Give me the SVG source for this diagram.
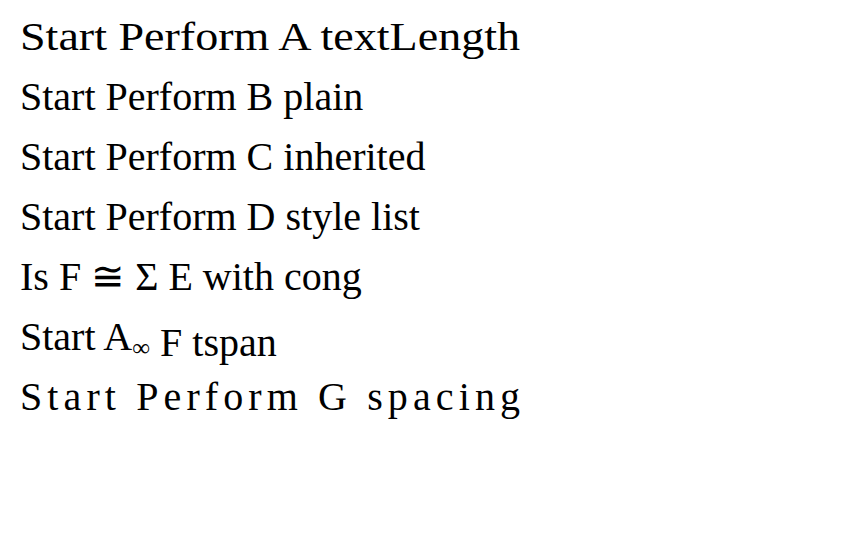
<svg xmlns="http://www.w3.org/2000/svg" width="864" height="558" viewBox="0 0 864 558">
<rect width="864" height="558" fill="#fff"/>
<text x="20" y="50" font-size="40" font-family="Liberation Serif" textLength="500" lengthAdjust="spacingAndGlyphs">Start Perform A textLength</text>
<text x="20" y="110" font-size="40" font-family="Liberation Serif">Start Perform B plain</text>
<g font-family="Liberation Serif"><text x="20" y="170" font-size="40">Start Perform C inherited</text></g>
<text x="20" y="230" font-size="40" style="font-family:'Liberation Serif',serif">Start Perform D style list</text>
<text x="20" y="290" font-size="40" font-family="Liberation Serif">Is F ≅ Σ E with cong</text>
<text x="20" y="350" font-size="40" font-family="Liberation Serif">Start A<tspan font-size="25" dy="6">∞</tspan> F tspan</text>
<text x="20" y="410" font-size="40" font-family="Liberation Serif" textLength="500" lengthAdjust="spacing">Start Perform G spacing</text>
</svg>
